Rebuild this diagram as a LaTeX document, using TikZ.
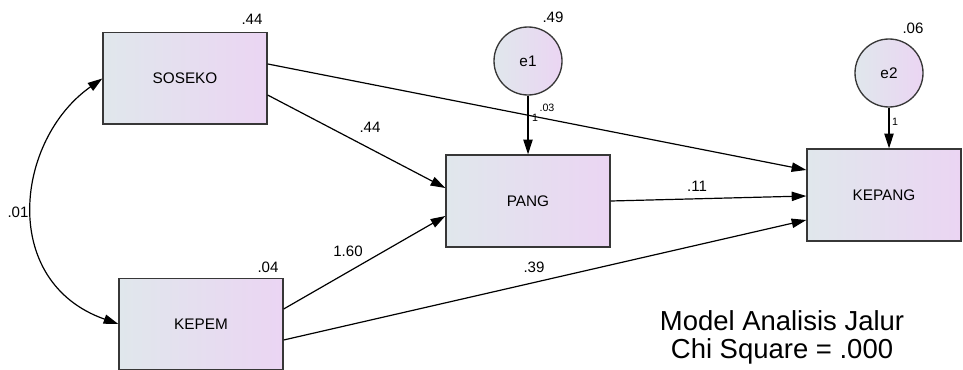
\documentclass[tikz,border=0pt]{standalone}
\usepackage{fontspec}
\setmainfont{Liberation Sans}
\usetikzlibrary{arrows.meta}

\definecolor{boxleft}{RGB}{224,231,236}
\definecolor{boxright}{RGB}{235,213,243}
\definecolor{boxline}{RGB}{55,55,55}

\tikzset{every picture/.style={line width=0.75pt}}
\tikzset{
  varbox/.style={draw=boxline, line width=1pt, left color=boxleft, right color=boxright,
    minimum width=123pt, minimum height=68.5pt, inner sep=0pt, font=\fontsize{11.5}{13}\selectfont},
  errcirc/.style={circle, draw=boxline, line width=1pt, left color=boxleft, right color=boxright,
    minimum size=51pt, inner sep=0pt, font=\fontsize{11.5}{13}\selectfont},
  conn/.style={-{Triangle[length=11pt,width=7pt]}, line width=0.9pt},
  estlab/.style={inner sep=0pt, font=\fontsize{11.3}{13}\selectfont},
  smalllab/.style={inner sep=0pt, font=\fontsize{8}{9}\selectfont},
  titlelab/.style={inner sep=0pt, align=center, font=\fontsize{20.6}{21.2}\selectfont}
}

\begin{document}
\begin{tikzpicture}[x=0.75pt,y=0.75pt,yscale=-1,xscale=1]
\useasboundingbox (0,0) rectangle (963,370);

% Variables
\node[varbox] (soseko) at (185,78.5) {SOSEKO};
\node[varbox] (kepem) at (201,324) [minimum height=68pt] {KEPEM};
\node[varbox] (pang) at (528,201) [minimum height=69pt] {PANG};
\node[varbox] (kepang) at (884,195) [minimum width=115.5pt, minimum height=69pt] {KEPANG};
% Errors
\node[errcirc] (e1) at (528,61) {e1};
\node[errcirc] (e2) at (889,73) {e2};

% Variances
\node[estlab] (vsoseko) at (252,19) {.44};
\node[estlab] (vkepem) at (268,267) {.04};
\node[estlab] (vpang) at (553,17) {.49};
\node[estlab] (vkepang) at (913,28) {.06};

% Connection
\draw[conn] ([yshift=12.4pt]soseko.east) -- ([yshift=-9.75pt]pang.west);
% Connection
\draw[conn] ([yshift=-10.9pt]soseko.east) -- ([yshift=-18.75pt]kepang.west);
% Connection
\draw[conn] ([yshift=-11.25pt]kepem.east) -- ([yshift=11.25pt]pang.west);
% Connection
\draw[conn] ([yshift=12pt]kepem.east) -- ([yshift=18.75pt]kepang.west);
% Connection
\draw[conn] (pang.east) -- ([yshift=0.75pt]kepang.west);
% Connection
\draw[conn] (e1) -- (pang);
% Connection
\draw[conn] (e2) -- (e2 |- kepang.north);
% Covariance
\draw[{Triangle[length=11pt,width=7pt]}-{Triangle[length=11pt,width=7pt]}, line width=0.9pt]
  (soseko.west) .. controls (15,140) and (-1,282) .. (kepem.west);

% Path labels
\node[estlab] (bsp) at (370,127) {.44};
\node[estlab] (bkp) at (348,251) {1.60};
\node[estlab] (bpk) at (697,186) {.11};
\node[estlab] (bkk) at (534,267) {.39};
\node[estlab] (cov) at (18,212) {.01};
\node[smalllab] (bsk) at (547,108) {.03};
\node[smalllab] (fe1) at (535,118) {1};
\node[smalllab] (fe2) at (895,122) {1};

% Title
\node[titlelab] (title) at (782,337.5) {Model Analisis Jalur\\Chi Square = .000};

\end{tikzpicture}
\end{document}
